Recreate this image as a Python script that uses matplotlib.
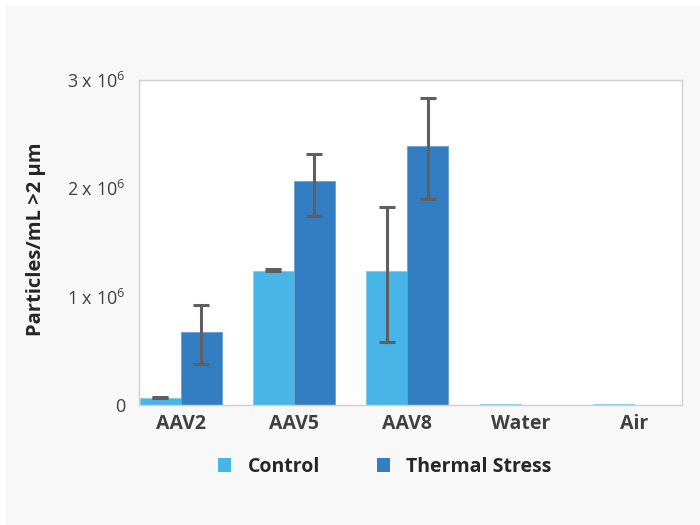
import numpy as np
import matplotlib.pyplot as plt
from matplotlib.patches import Patch, Rectangle

plt.rcParams['font.family'] = ['Open Sans', 'DejaVu Sans']
plt.rcParams['mathtext.fontset'] = 'custom'
plt.rcParams['mathtext.rm'] = 'Open Sans'

categories = ['AAV2', 'AAV5', 'AAV8', 'Water', 'Air']
control = [0.062e6, 1.237e6, 1.237e6, 0.01e6, 0.01e6]
control_err_lo = [0.0, 0.0, 0.653e6, 0.0, 0.0]
control_err_hi = [0.01e6, 0.021e6, 0.588e6, 0.0, 0.0]
thermal = [0.671e6, 2.071e6, 2.394e6, 0.0, 0.0]
thermal_err_lo = [0.29e6, 0.324e6, 0.49e6, 0.0, 0.0]
thermal_err_hi = [0.252e6, 0.246e6, 0.443e6, 0.0, 0.0]
series_names = ['Control', 'Thermal Stress']
yticks = [0, 1e6, 2e6, 3e6]
ytick_labels = ['0', r'1 x 10$^{\mathrm{6}}$', r'2 x 10$^{\mathrm{6}}$', r'3 x 10$^{\mathrm{6}}$']

c_control = '#48b5e7'
c_thermal = '#337ec2'
c_err = '#5f5f5f'

fig = plt.figure(figsize=(7, 5.25), dpi=100)
fig.patches.append(Rectangle((6 / 700, 0), 694 / 700, 519 / 525, transform=fig.transFigure,
                             facecolor='#f8f8f8', edgecolor='none', zorder=-10))
ax = fig.add_axes([139 / 700, 120 / 525, 543 / 700, 325 / 525])

x = np.arange(len(categories))
w = 0.362
ax.bar(x - w / 2, control, w, color=c_control, edgecolor='#7fcaee', linewidth=0.6, zorder=2)
ax.bar(x + w / 2, thermal, w, color=c_thermal, edgecolor='#6aa0d4', linewidth=0.6, zorder=2)

m = np.array([e > 0 for e in np.add(control_err_lo, control_err_hi)])
ax.errorbar((x - w / 2)[m], np.array(control)[m],
            yerr=[np.array(control_err_lo)[m], np.array(control_err_hi)[m]],
            fmt='none', ecolor=c_err, elinewidth=2.2, capsize=5.7, capthick=2.2, zorder=3)
m = np.array([e > 0 for e in np.add(thermal_err_lo, thermal_err_hi)])
ax.errorbar((x + w / 2)[m], np.array(thermal)[m],
            yerr=[np.array(thermal_err_lo)[m], np.array(thermal_err_hi)[m]],
            fmt='none', ecolor=c_err, elinewidth=2.2, capsize=5.7, capthick=2.2, zorder=3)

ax.set_xlim(-0.368, 4.425)
ax.set_ylim(0, 3e6)
ax.set_xticks(x)
ax.set_xticklabels(categories, fontsize=14, fontweight='bold', color='#404040')
ax.set_yticks(yticks)
ax.set_yticklabels(ytick_labels, fontsize=13, color='#404040')
ax.tick_params(axis='both', length=0)
ax.tick_params(axis='x', pad=6.5)
ax.tick_params(axis='y', pad=10)
for s in ax.spines.values():
    s.set_color('#d0d0d0')
    s.set_linewidth(1)

ax.set_ylabel('Particles/mL >2 µm', fontsize=14.5, fontweight='bold', color='#262626')
ax.yaxis.set_label_coords(-0.171, 0.51)

handles = [Patch(facecolor=c_control), Patch(facecolor=c_thermal)]
ax.legend(handles, series_names, loc='center', bbox_to_anchor=(0.453, -0.19), ncol=2,
          frameon=False, prop={'size': 14, 'weight': 'bold'}, labelcolor='#262626',
          handlelength=0.67, handleheight=0.67, handletextpad=0.82, columnspacing=2.95)

fig.savefig('out.png', dpi=100, facecolor='white')
